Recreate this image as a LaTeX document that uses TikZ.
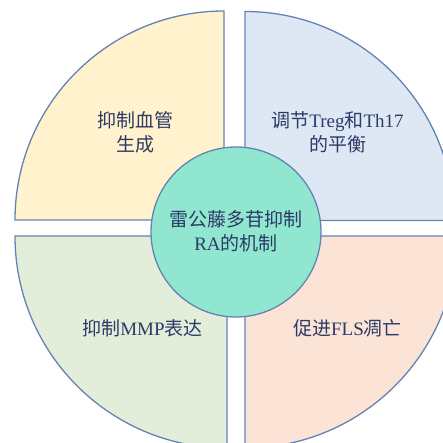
\documentclass[tikz,border=0pt]{standalone}
\usepackage{fontspec}
\setmainfont{Liberation Serif}
\newfontfamily\cjk{Noto Sans CJK SC}
\definecolor{edgec}{HTML}{6483B5}
\definecolor{txtc}{HTML}{2C3B66}
\definecolor{fyel}{HTML}{FFF2CC}
\definecolor{fblu}{HTML}{DEE8F5}
\definecolor{fgrn}{HTML}{E2EEDA}
\definecolor{fpch}{HTML}{FBE4D6}
\definecolor{fctr}{HTML}{90E6CF}
\tikzset{
  sector/.style={draw=edgec, line width=1.3pt, line join=round},
  lbl/.style={text=txtc, align=center, font=\fontsize{19}{24}\selectfont, inner sep=0pt},
  hub/.style={circle, draw=edgec, line width=1.3pt, fill=fctr, minimum size=170pt, inner sep=0pt}
}
\begin{document}
\begin{tikzpicture}[x=1pt,y=1pt]
\useasboundingbox (0,0) rectangle (443,443);
\clip (0,0) rectangle (443,443);
% top-left
\draw[sector, fill=fyel] (224,223) -- (15,223) arc[start angle=180, end angle=90, radius=209] -- cycle;
% top-right
\draw[sector, fill=fblu] (245,222.5) -- (245,431.5) arc[start angle=90, end angle=0, radius=209] -- cycle;
% bottom-left
\draw[sector, fill=fgrn] (227,207) -- (227,-5) arc[start angle=270, end angle=180, radius=212] -- cycle;
% bottom-right
\draw[sector, fill=fpch] (245,207) -- (457,207) arc[start angle=0, end angle=-90, radius=212] -- cycle;
\node[hub] (hub) at (236,211) {};
\node[lbl] (tl) at (135,311) {{\cjk 抑制血管}\\{\cjk 生成}};
\node[lbl] (tr) at (337.5,311) {{\cjk 调节}Treg{\cjk 和}Th17\\{\cjk 的平衡}};
\node[lbl] (ctr) at (236,211.5) {{\cjk 雷公藤多苷抑制}\\RA{\cjk 的机制}};
\node[lbl] (bl) at (142.5,115) {{\cjk 抑制}MMP{\cjk 表达}};
\node[lbl] (br) at (347.5,115) {{\cjk 促进}FLS{\cjk 凋亡}};
\end{tikzpicture}
\end{document}
